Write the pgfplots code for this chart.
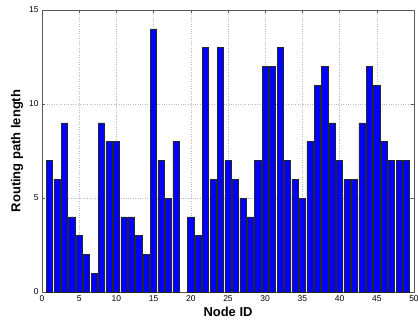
\documentclass[border=0pt]{standalone}
\usepackage{pgfplots}
\pgfplotsset{compat=1.18}
\usepackage{fontspec}
\setmainfont{Liberation Sans}
\begin{document}
\begin{tikzpicture}
\begin{axis}[
  scale only axis,
  width=372bp, height=282bp,
  xmin=0, xmax=50, ymin=0, ymax=15,
  xtick={0,5,...,50}, ytick={0,5,10,15},
  tick align=inside,
  major tick length=3bp,
  xmajorgrids, ymajorgrids,
  grid style={dotted, gray!55, line width=0.4pt},
  axis line style={draw=black!65, line width=0.6pt},
  tick style={black!65},
  ticklabel style={font=\fontsize{8.5}{9}\selectfont},
  /pgf/number format/assume math mode=true,
  xlabel={\bfseries Node ID},
  ylabel={\bfseries Routing path length},
  label style={font=\fontsize{13}{14}\selectfont},
  xlabel style={yshift=1bp},
  ylabel style={yshift=-1bp},
  xticklabel style={yshift=0bp},
]
\addplot[ybar, bar width=0.82, fill={rgb,255:red,0;green,0;blue,255}, draw=black!85, line width=0.5pt] coordinates {
(1,7) (2,6) (3,9) (4,4) (5,3) (6,2) (7,1) (8,9) (9,8) (10,8)
(11,4) (12,4) (13,3) (14,2) (15,14) (16,7) (17,5) (18,8) (20,4)
(21,3) (22,13) (23,6) (24,13) (25,7) (26,6) (27,5) (28,4) (29,7) (30,12)
(31,12) (32,13) (33,7) (34,6) (35,5) (36,8) (37,11) (38,12) (39,9) (40,7)
(41,6) (42,6) (43,9) (44,12) (45,11) (46,8) (47,7) (48,7) (49,7)
};
\end{axis}
\pgfresetboundingbox
\path (-42bp,-31bp) rectangle (376bp,292bp);
\end{tikzpicture}
\end{document}
